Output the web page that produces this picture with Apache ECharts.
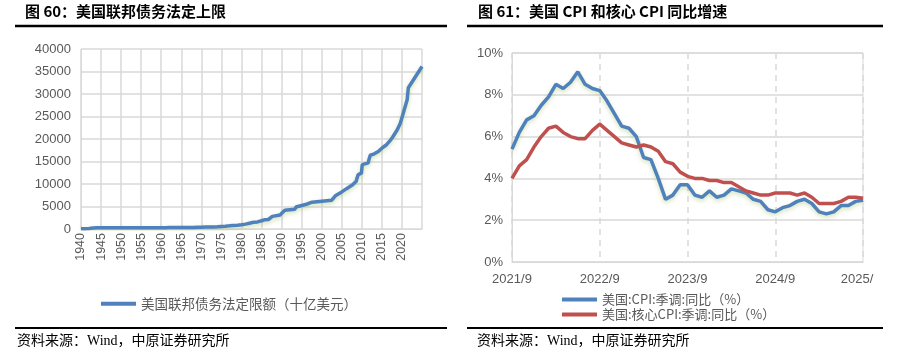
<!DOCTYPE html>
<html>
<head>
<meta charset="utf-8">
<script src="https://cdn.jsdelivr.net/npm/echarts@6/dist/echarts.min.js"></script>
<style>
  html, body { margin: 0; padding: 0; background: #fff; }
  #vis { width: 907px; height: 354px; }
</style>
</head>
<body>
<div id="vis"></div>
<script>
// 图60：美国联邦债务法定上限（十亿美元）
const debtYears = [1940, 1941, 1942, 1943, 1944, 1945, 1946, 1954.6, 1956, 1958, 1959, 1960, 1961, 1962, 1963, 1964, 1965, 1966, 1967, 1968, 1969, 1970, 1971, 1972, 1973, 1974, 1975, 1976, 1977, 1978, 1979, 1980, 1981, 1982, 1983, 1984, 1985, 1985.9, 1986.7, 1987.7, 1989.6, 1990.8, 1993.3, 1993.6, 1996.2, 1997.6, 2002.5, 2003.4, 2004.9, 2006.2, 2007.7, 2008.6, 2008.8, 2009.1, 2009.9, 2010.1, 2011.6, 2011.7, 2012.1, 2013.1, 2014.1, 2015.2, 2016.0, 2017.2, 2017.7, 2018.8, 2019.6, 2021.3, 2021.6, 2025.0]
const debtLimit = [49, 65, 125, 210, 260, 300, 275, 281, 278, 280, 288, 293, 298, 308, 309, 324, 328, 330, 336, 358, 377, 395, 430, 450, 465, 495, 577, 636, 700, 798, 830, 935, 1079, 1290, 1490, 1573, 1824, 2079, 2111, 2800, 3123, 4145, 4370, 4900, 5500, 5950, 6400, 7384, 8184, 8965, 9815, 10615, 11315, 12104, 12394, 14294, 14694, 15194, 16394, 16699, 17212, 18113, 18600, 19809, 20456, 21988, 23500, 28700, 31400, 36100]

// 图61：美国CPI和核心CPI同比（%）
const months = ['2021/9', '2021/10', '2021/11', '2021/12', '2022/1', '2022/2', '2022/3', '2022/4', '2022/5', '2022/6', '2022/7', '2022/8', '2022/9', '2022/10', '2022/11', '2022/12', '2023/1', '2023/2', '2023/3', '2023/4', '2023/5', '2023/6', '2023/7', '2023/8', '2023/9', '2023/10', '2023/11', '2023/12', '2024/1', '2024/2', '2024/3', '2024/4', '2024/5', '2024/6', '2024/7', '2024/8', '2024/9', '2024/10', '2024/11', '2024/12', '2025/1', '2025/2', '2025/3', '2025/4', '2025/5', '2025/6', '2025/7', '2025/8', '2025/9']
const cpi = [5.4, 6.2, 6.8, 7.0, 7.5, 7.9, 8.5, 8.3, 8.6, 9.1, 8.5, 8.3, 8.2, 7.7, 7.1, 6.5, 6.4, 6.0, 5.0, 4.9, 4.0, 3.0, 3.2, 3.7, 3.7, 3.2, 3.1, 3.4, 3.1, 3.2, 3.5, 3.4, 3.3, 3.0, 2.9, 2.5, 2.4, 2.6, 2.7, 2.9, 3.0, 2.8, 2.4, 2.3, 2.4, 2.7, 2.7, 2.9, 2.95]
const coreCpi = [4.0, 4.6, 4.9, 5.5, 6.0, 6.4, 6.5, 6.2, 6.0, 5.9, 5.9, 6.3, 6.6, 6.3, 6.0, 5.7, 5.6, 5.5, 5.6, 5.5, 5.3, 4.8, 4.7, 4.3, 4.1, 4.0, 4.0, 3.9, 3.9, 3.8, 3.8, 3.6, 3.4, 3.3, 3.2, 3.2, 3.3, 3.3, 3.3, 3.2, 3.3, 3.1, 2.8, 2.8, 2.8, 2.9, 3.1, 3.1, 3.05]

const nameDebt = '美国联邦债务法定限额（十亿美元）'
const nameCpi = '美国:CPI:季调:同比（%）'
const nameCore = '美国:核心CPI:季调:同比（%）'

const gray = '#595959'
const gridGray = '#d9d9d9'
const cjk = '"Noto Sans CJK SC", sans-serif'
const serif = '"Liberation Serif", "Noto Sans CJK SC", serif'
const latin = '"Liberation Sans", Arial, sans-serif'

const chart = echarts.init(document.getElementById('vis'))

chart.setOption({
  animation: false,
  backgroundColor: '#fff',
  grid: [
    { left: 81, right: 485, top: 49, bottom: 125 },
    { left: 512, right: 44, top: 53, bottom: 92, show: true, borderColor: gridGray, borderWidth: 1 }
  ],
  legend: [
    {
      data: [nameDebt],
      left: 96,
      top: 292,
      itemWidth: 35,
      itemHeight: 4,
      icon: 'rect',
      textStyle: { color: gray, fontSize: 13.5, fontFamily: cjk }
    },
    {
      data: [nameCpi, nameCore],
      orient: 'vertical',
      left: 557,
      top: 288,
      itemGap: 2,
      itemWidth: 35,
      itemHeight: 4,
      icon: 'rect',
      textStyle: { color: gray, fontSize: 13, fontFamily: cjk }
    }
  ],
  xAxis: [
    {
      gridIndex: 0,
      type: 'value',
      min: 1940,
      max: 2025,
      interval: 5,
      axisLine: { show: true, lineStyle: { color: gridGray } },
      axisTick: { show: false },
      axisLabel: {
        rotate: 90,
        margin: 4,
        color: gray,
        fontSize: 12.5,
        fontFamily: latin,
        formatter: v => (v > 2020 ? '' : String(v))
      },
      splitLine: { show: true, lineStyle: { color: gridGray, width: 1.5 } }
    },
    {
      gridIndex: 1,
      type: 'category',
      data: months,
      boundaryGap: false,
      axisLine: { show: true, lineStyle: { color: gridGray } },
      axisTick: { show: false },
      axisLabel: {
        interval: 11,
        margin: 11,
        color: gray,
        fontSize: 13,
        fontFamily: latin,
        formatter: v => (v === '2025/9' ? '{e|2025/}' : v),
        rich: { e: { color: gray, fontSize: 13, fontFamily: latin, padding: [0, 12, 0, 0] } }
      },
      splitLine: { show: true, interval: 11, lineStyle: { color: gridGray, type: [6, 5], width: 1.5 } }
    }
  ],
  yAxis: [
    {
      gridIndex: 0,
      type: 'value',
      min: 0,
      max: 40000,
      interval: 5000,
      axisLine: { show: true, lineStyle: { color: gridGray } },
      axisTick: { show: false },
      axisLabel: { margin: 10, color: gray, fontSize: 13, fontFamily: latin, formatter: v => String(v) },
      splitLine: { show: true, lineStyle: { color: gridGray, width: 1.5 } }
    },
    {
      gridIndex: 1,
      type: 'value',
      min: 0,
      max: 10,
      interval: 2,
      axisLine: { show: true, lineStyle: { color: gridGray } },
      axisTick: { show: false },
      axisLabel: { margin: 9, color: gray, fontSize: 13, fontFamily: latin, formatter: '{value}%' },
      splitLine: { show: true, lineStyle: { color: gridGray, width: 1.5 } }
    }
  ],
  series: [
    {
      name: nameDebt,
      type: 'line',
      xAxisIndex: 0,
      yAxisIndex: 0,
      data: debtYears.map((y, i) => [y, debtLimit[i]]),
      showSymbol: false,
      color: '#4f81bd',
      lineStyle: { width: 3.5, color: '#4f81bd', shadowColor: 'rgba(155,187,89,0.45)', shadowBlur: 4, shadowOffsetY: 2 }
    },
    {
      name: nameCpi,
      type: 'line',
      xAxisIndex: 1,
      yAxisIndex: 1,
      data: cpi,
      showSymbol: false,
      color: '#4f81bd',
      lineStyle: { width: 3.5, color: '#4f81bd', shadowColor: 'rgba(155,187,89,0.45)', shadowBlur: 4, shadowOffsetY: 2 }
    },
    {
      name: nameCore,
      type: 'line',
      xAxisIndex: 1,
      yAxisIndex: 1,
      data: coreCpi,
      showSymbol: false,
      color: '#c0504d',
      lineStyle: { width: 3.5, color: '#c0504d' }
    }
  ],
  graphic: [
    { type: 'text', left: 25, top: 4, style: { text: '图 60：美国联邦债务法定上限', fill: '#000', font: 'bold 15px ' + cjk } },
    { type: 'text', left: 478, top: 4, style: { text: '图 61：美国 CPI 和核心 CPI 同比增速', fill: '#000', font: 'bold 15px ' + cjk } },
    { type: 'line', shape: { x1: 15, y1: 26, x2: 447, y2: 26 }, style: { stroke: '#000', lineWidth: 2.5 } },
    { type: 'line', shape: { x1: 467, y1: 26, x2: 883, y2: 26 }, style: { stroke: '#000', lineWidth: 2.5 } },
    { type: 'line', shape: { x1: 15, y1: 328, x2: 447, y2: 328 }, style: { stroke: '#000', lineWidth: 2 } },
    { type: 'line', shape: { x1: 467, y1: 328, x2: 883, y2: 328 }, style: { stroke: '#000', lineWidth: 2 } },
    { type: 'text', left: 17, top: 334, style: { text: '资料来源：Wind，中原证券研究所', fill: '#000', font: '14px ' + serif } },
    { type: 'text', left: 477, top: 334, style: { text: '资料来源：Wind，中原证券研究所', fill: '#000', font: '14px ' + serif } }
  ]
})
</script>
</body>
</html>
